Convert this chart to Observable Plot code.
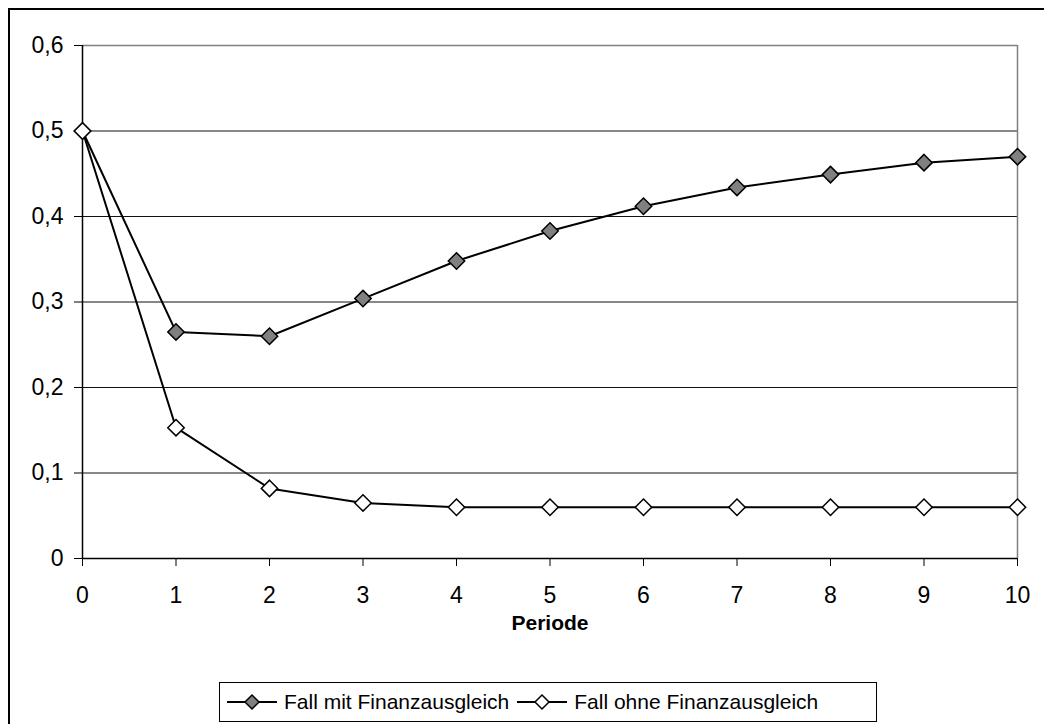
<!DOCTYPE html>
<html>
<head>
<meta charset="utf-8">
<script src="https://cdn.jsdelivr.net/npm/d3@7"></script>
<script src="https://cdn.jsdelivr.net/npm/@observablehq/plot@0.6"></script>
<style>
  html, body { margin: 0; padding: 0; background: #fff; overflow: hidden; }
  #wrap { position: relative; width: 1044px; height: 724px; overflow: hidden; font-family: "Liberation Sans", Arial, sans-serif; }
  #frame { position: absolute; left: 8px; top: 8px; width: 1100px; height: 800px; border: 2px solid #000; box-sizing: border-box; }
  #chart { position: absolute; left: 0; top: 0; }
  #legend { position: absolute; left: 219px; top: 682px; width: 658px; height: 40px; border: 1px solid #000; box-sizing: border-box;
            display: flex; align-items: center; font-size: 21px; color: #000; white-space: nowrap; padding-left: 7px; }
  #legend .item { display: flex; align-items: center; margin-right: 8px; }
  #legend svg { margin-right: 7px; }
</style>
</head>
<body>
<div id="wrap">
  <div id="frame"></div>
  <div id="chart"></div>
  <div id="legend"></div>
</div>
<script>
const periods = [0, 1, 2, 3, 4, 5, 6, 7, 8, 9, 10];
const mitFinanzausgleich  = [0.5, 0.265, 0.26, 0.304, 0.348, 0.383, 0.412, 0.434, 0.449, 0.463, 0.47];
const ohneFinanzausgleich = [0.5, 0.153, 0.082, 0.065, 0.06, 0.06, 0.06, 0.06, 0.06, 0.06, 0.06];
const seriesNames = ["Fall mit Finanzausgleich", "Fall ohne Finanzausgleich"];
const seriesFills = ["#808080", "#ffffff"];
const yTicks = [0, 0.1, 0.2, 0.3, 0.4, 0.5, 0.6];
const xLabel = "Periode";

const dataMit = periods.map((p, i) => ({x: p, y: mitFinanzausgleich[i]}));
const dataOhne = periods.map((p, i) => ({x: p, y: ohneFinanzausgleich[i]}));
const fmt = d => d === 0 ? "0" : d.toFixed(1).replace(".", ",");

const W = 1044, H = 660;
const plot = Plot.plot({
  width: W,
  height: H,
  marginLeft: 82,
  marginRight: 27,
  marginTop: 45,
  marginBottom: H - 558,
  style: {fontFamily: "'Liberation Sans', Arial, sans-serif", fontSize: "22px", background: "transparent", color: "#000"},
  x: {domain: [0, 10]},
  y: {domain: [0, 0.6]},
  marks: [
    Plot.gridY(yTicks.slice(1, 6), {stroke: "#111", strokeOpacity: 1, strokeWidth: 1}),
    Plot.ruleY([0.6], {stroke: "#808080", strokeWidth: 1.5}),
    Plot.ruleX([10], {stroke: "#808080", strokeWidth: 1.5}),
    Plot.axisY({ticks: yTicks, tickFormat: fmt, tickSize: 8, tickPadding: 11, fontSize: 23, label: null, stroke: "#000"}),
    Plot.axisX({ticks: periods, tickFormat: d => String(d), tickSize: 8, tickPadding: 20, fontSize: 23, label: null, stroke: "#000"}),
    Plot.ruleX([0], {stroke: "#000", strokeWidth: 1.5}),
    Plot.ruleY([0], {stroke: "#000", strokeWidth: 1.5}),
    Plot.line(dataMit, {x: "x", y: "y", stroke: "#000", strokeWidth: 2}),
    Plot.dot(dataMit, {x: "x", y: "y", symbol: "diamond2", r: 7.4, fill: seriesFills[0], stroke: "#000", strokeWidth: 1.5}),
    Plot.line(dataOhne, {x: "x", y: "y", stroke: "#000", strokeWidth: 2}),
    Plot.dot(dataOhne, {x: "x", y: "y", symbol: "diamond2", r: 7.4, fill: seriesFills[1], stroke: "#000", strokeWidth: 1.5}),
    Plot.text([xLabel], {frameAnchor: "bottom", dy: 71, text: d => d, fontSize: 21, fontWeight: "bold", fill: "#000"})
  ]
});
document.getElementById("chart").appendChild(plot);

const legend = document.getElementById("legend");
seriesNames.forEach((name, i) => {
  const item = document.createElement("div");
  item.className = "item";
  item.innerHTML = `<svg width="50" height="20" viewBox="0 0 50 20">
      <line x1="0" y1="10" x2="50" y2="10" stroke="#000" stroke-width="2"/>
      <path d="M25 3 L32 10 L25 17 L18 10 Z" fill="${seriesFills[i]}" stroke="#000" stroke-width="1.5"/>
    </svg><span>${name}</span>`;
  legend.appendChild(item);
});
</script>
</body>
</html>
